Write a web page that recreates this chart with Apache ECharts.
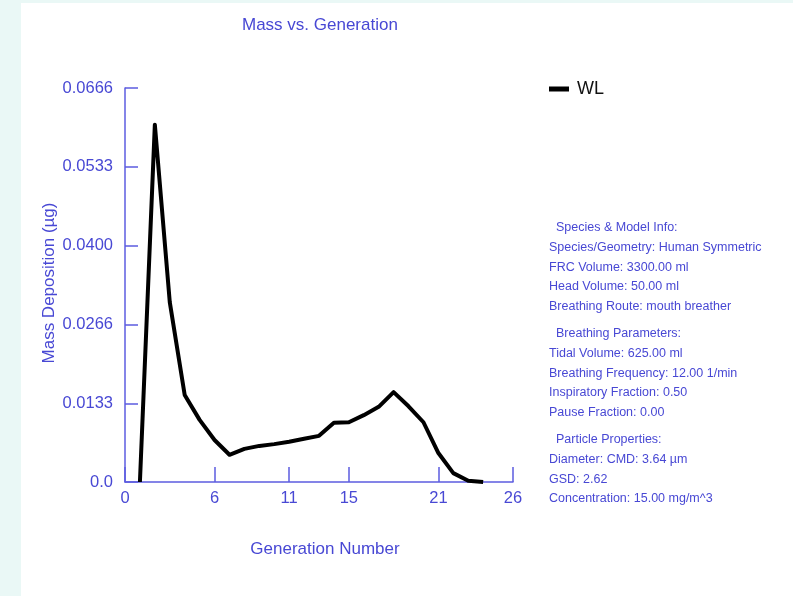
<!DOCTYPE html>
<html>
<head>
<meta charset="utf-8">
<script src="https://cdn.jsdelivr.net/npm/echarts@6/dist/echarts.min.js"></script>
<style>
  html, body { margin: 0; padding: 0; background: #eaf8f6; }
  #chart { width: 793px; height: 596px; }
</style>
</head>
<body>
<div id="chart"></div>
<script>
const generations = [1, 2, 3, 4, 5, 6, 7, 8, 9, 10, 11, 12, 13, 14, 15, 16, 17, 18, 19, 20, 21, 22, 23, 24];
const massWL = [0.0, 0.0604, 0.0304, 0.0147, 0.0105, 0.0071, 0.0046, 0.0056, 0.0061, 0.0064, 0.0068, 0.0073,
                0.0078, 0.0100, 0.0101, 0.0113, 0.0127, 0.0152, 0.0128, 0.0101, 0.0049, 0.0015, 0.0002, 0.0000];
const xTicks = [0, 6, 11, 15, 21, 26];
const yTicks = [0, 0.0133, 0.0266, 0.0400, 0.0533, 0.0666];
const yTickLabels = ['0.0', '0.0133', '0.0266', '0.0400', '0.0533', '0.0666'];
const infoLines = [
  ['  Species & Model Info:', 0],
  ['Species/Geometry: Human Symmetric', 0],
  ['FRC Volume: 3300.00 ml', 0],
  ['Head Volume: 50.00 ml', 0],
  ['Breathing Route: mouth breather', 0],
  ['  Breathing Parameters:', 1],
  ['Tidal Volume: 625.00 ml', 1],
  ['Breathing Frequency: 12.00 1/min', 1],
  ['Inspiratory Fraction: 0.50', 1],
  ['Pause Fraction: 0.00', 1],
  ['  Particle Properties:', 2],
  ['Diameter: CMD: 3.64 \u00b5m', 2],
  ['GSD: 2.62', 2],
  ['Concentration: 15.00 mg/m^3', 2]
];

const textBlue = '#4848d4';
const axisBlue = '#5c5ce0';
const font = 'Liberation Sans, Arial, sans-serif';

const chart = echarts.init(document.getElementById('chart'));

const graphics = [
  { type: 'rect', left: 21, top: 3, z: -10, shape: { width: 772, height: 593 }, style: { fill: '#ffffff' } }
];
infoLines.forEach(function (item, i) {
  graphics.push({
    type: 'text',
    left: 549 + (item[0].startsWith('  ') ? 7 : 0),
    top: 221 + i * 19.8 + item[1] * 7,
    style: { text: item[0].trim(), fill: textBlue, font: '12.5px ' + font }
  });
});

chart.setOption({
  animation: false,
  backgroundColor: '#eaf8f6',
  title: {
    text: 'Mass vs. Generation',
    left: 237, top: 12,
    textStyle: { color: textBlue, fontSize: 17, fontWeight: 'normal', fontFamily: font }
  },
  legend: {
    left: 544, top: 75,
    icon: 'rect', itemWidth: 20, itemHeight: 5, itemGap: 9,
    textStyle: { color: '#111', fontSize: 18, fontFamily: font, padding: [0, 0, 0, 3] },
    data: ['WL']
  },
  graphic: graphics,
  grid: { left: 125, top: 88, width: 388, height: 394 },
  xAxis: {
    type: 'value', min: 0, max: 26,
    name: 'Generation Number', nameLocation: 'middle', nameGap: 59,
    nameTextStyle: { color: textBlue, fontSize: 17, fontFamily: font, padding: [0, 0, 0, 12] },
    axisLine: { show: true, lineStyle: { color: axisBlue, width: 1.5 } },
    axisTick: { show: true, inside: true, length: 15, customValues: xTicks, lineStyle: { color: axisBlue, width: 1.5 } },
    axisLabel: { customValues: xTicks, color: textBlue, fontSize: 16.5, fontFamily: font, margin: 8 },
    splitLine: { show: false }
  },
  yAxis: {
    type: 'value', min: 0, max: 0.0666,
    name: 'Mass Deposition (\u00b5g)', nameLocation: 'middle', nameGap: 67,
    nameTextStyle: { color: textBlue, fontSize: 17, fontFamily: font, padding: [0, 0, 0, 4] },
    axisLine: { show: true, lineStyle: { color: axisBlue, width: 1.5 } },
    axisTick: { show: true, inside: true, length: 13, customValues: yTicks, lineStyle: { color: axisBlue, width: 1.5 } },
    axisLabel: {
      customValues: yTicks, color: textBlue, fontSize: 16.5, fontFamily: font, margin: 12,
      formatter: function (v) {
        const idx = yTicks.findIndex(function (t) { return Math.abs(t - v) < 1e-9; });
        return idx >= 0 ? yTickLabels[idx] : '';
      }
    },
    splitLine: { show: false }
  },
  series: [{
    name: 'WL', type: 'line',
    data: generations.map(function (g, i) { return [g, massWL[i]]; }),
    showSymbol: false, symbol: 'none',
    lineStyle: { color: '#000000', width: 4, join: 'round' },
    itemStyle: { color: '#000000' }
  }]
});
</script>
</body>
</html>
